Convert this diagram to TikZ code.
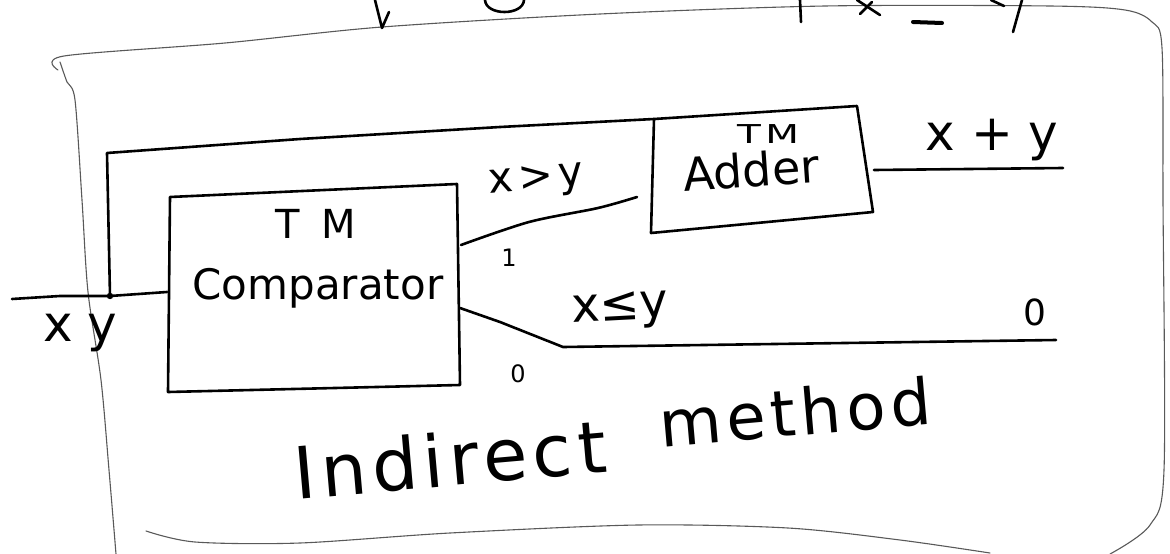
\documentclass[tikz,border=0pt]{standalone}
\usepackage{fontspec}
\newfontfamily\hand{DejaVu Sans}
\newfontfamily\handwide{DejaVu Sans}[LetterSpace=8]
\newfontfamily\handwider{DejaVu Sans}[LetterSpace=12]
\newcommand\handsize[1]{\fontsize{#1}{#1}\selectfont}
\begin{document}
\begin{tikzpicture}[x=1pt,y=-1pt,
  ink/.style={line width=2.6pt, line cap=round, line join=round},
  frame/.style={line width=1.1pt, black!65, line cap=round, line join=round},
  lbl/.style={inner sep=0pt, text=black}]
\useasboundingbox (0,0) rectangle (1170,554);

% ---- outer frame (rounded sketch border)
\draw[frame] plot[smooth] coordinates {(60,62) (67,82) (75,100) (82,200) (88,292) (101,380) (109,470) (116,554)};
\draw[frame] plot[smooth] coordinates {(58,70) (64,56) (225,43) (382,27) (600,14) (825,6) (1050,6) (1125,10) (1152,22) (1162,48) (1163,200) (1164,470) (1150,525) (1110,554)};
\draw[frame] plot[smooth] coordinates {(146,531) (195,542) (300,543) (450,533) (638,525) (788,528) (900,540) (990,553)};

% ---- strokes of the line above the frame
\draw[ink] (375,0) -- (382,28) -- (389,12);
\draw[ink] (485,0) .. controls (486,16) and (523,16) .. (524,0);
\draw[ink] (800,0) -- (801,22);
\draw[ink] (857,0) -- (880,15);
\draw[ink] (872,2) -- (860,14);
\draw[ink, line width=4pt] (913,22) -- (942,23);
\draw[ink] (1022,0) -- (1013,32);
\draw[ink] (991,0) -- (1004,6);

% ---- comparator block
\coordinate (cTL) at (170,197);
\coordinate (cTR) at (457,184);
\coordinate (cBR) at (460,385);
\coordinate (cBL) at (168,392);
\draw[ink] (cTL) -- (cTR) -- (cBR) -- (cBL) -- cycle;
\node[lbl, font={\hand\handsize{40}}] (cmpTM) at (316,224) {T\hspace{22pt}M};
\node[lbl, font={\hand\handsize{42}}] (cmpname) at (318,288) {Comparator};

% ---- adder block
\coordinate (aTL) at (654,119);
\coordinate (aTR) at (857,106);
\coordinate (aBR) at (873,212);
\coordinate (aBL) at (651,233);
\draw[ink] (aTL) -- (aTR) -- (aBR) -- (aBL) -- cycle;
\node[lbl, font={\hand\handsize{26}}] (addTM) at (768,134) {\scalebox{1.5}[1]{T\hspace{3pt}M}};
\node[lbl, font={\hand\handsize{46}}, rotate=4] (addname) at (751,170) {Adder};

% ---- ports and junction
\coordinate (in) at (12,299);
\coordinate (jn) at (110,296);
\coordinate (cIn) at (167,292);
\coordinate (up) at (107,153);
\coordinate (cOut1) at (461,245);
\coordinate (g1) at (637,197);
\coordinate (cOut0) at (460,308);
\coordinate (z0) at (1056,340);
\coordinate (aOut) at (874,170);
\coordinate (sum) at (1063,168);

% input and feedback wiring
\draw[ink] (in) -- (60,296) -- (jn) -- (cIn);
\draw[ink] (jn) -- (up) -- (300,139) -- (500,127) -- (aTL);
\fill (jn) circle (3.2pt);

% comparator outputs
\draw[ink] plot[smooth] coordinates {(cOut1) (529,222) (598,208) (g1)};
\draw[ink] (cOut0) -- (500,322) -- (563,347) -- (z0);
\draw[ink] (aOut) -- (sum);

% ---- labels
\node[lbl, font={\hand\handsize{50}}] (inlbl) at (80,333) {x\hspace{14pt}y};
\node[lbl, font={\handwider\handsize{42}}, rotate=5] (gt) at (536,182) {x>y};
\node[lbl, font={\hand\handsize{24}}] (one) at (509,258) {1};
\node[lbl, font={\hand\handsize{48}}, rotate=3] (le) at (620,311) {x≤y};
\node[lbl, font={\hand\handsize{36}}] (zr) at (1035,312) {0};
\node[lbl, font={\hand\handsize{24}}] (zb) at (518,374) {0};
\node[lbl, font={\hand\handsize{50}}] (xy) at (992,140) {x + y};
\node[lbl, font={\handwide\handsize{72}}, rotate=5] (ind) at (450,459) {Indirect};
\node[lbl, font={\handwide\handsize{64}}, rotate=5] (meth) at (795,412) {method};
\end{tikzpicture}
\end{document}
